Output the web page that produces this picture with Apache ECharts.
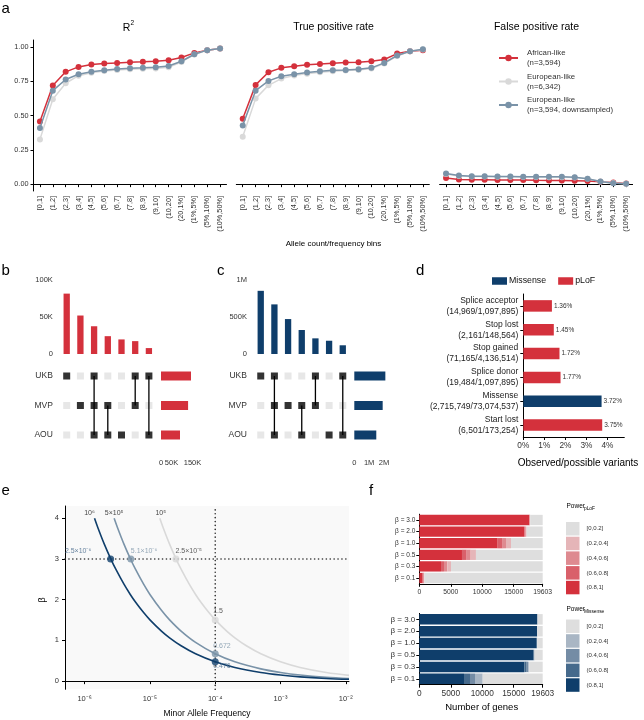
<!DOCTYPE html>
<html><head><meta charset="utf-8">
<script src="https://cdn.jsdelivr.net/npm/echarts@6/dist/echarts.min.js"></script>
<style>html,body{margin:0;padding:0;background:#fff}#c{width:644px;height:720px}</style>
</head><body><div id="c"></div>
<script>
// ---------------- Panel a data ----------------
const binLabels = ['[0,1]','(1,2]','(2,3]','(3,4]','(4,5]','(5,6]','(6,7]','(7,8]','(8,9]','(9,10]','(10,20]','(20,1%]','(1%,5%]','(5%,10%]','(10%,50%]'];
const groupNames = ['African-like','European-like','European-like downsampled'];
const groupLegend = ['African-like\n(n=3,594)','European-like\n(n=6,342)','European-like\n(n=3,594, downsampled)'];
const r2African   = [0.457,0.718,0.818,0.854,0.871,0.878,0.883,0.888,0.891,0.895,0.903,0.922,0.956,0.976,0.988];
const r2European  = [0.326,0.618,0.735,0.790,0.812,0.824,0.832,0.837,0.840,0.843,0.851,0.890,0.944,0.976,0.988];
const r2EuropeanDS= [0.409,0.681,0.762,0.800,0.818,0.830,0.839,0.844,0.847,0.852,0.861,0.895,0.946,0.976,0.988];
const tprAfrican   = [0.477,0.723,0.815,0.847,0.859,0.869,0.876,0.881,0.886,0.888,0.895,0.908,0.951,0.968,0.976];
const tprEuropean  = [0.345,0.623,0.720,0.769,0.791,0.805,0.815,0.822,0.827,0.832,0.842,0.878,0.934,0.968,0.981];
const tprEuropeanDS= [0.428,0.681,0.752,0.786,0.800,0.813,0.822,0.830,0.832,0.837,0.847,0.883,0.937,0.968,0.983];
const fprAfrican   = [0.044,0.034,0.032,0.032,0.031,0.030,0.030,0.028,0.027,0.027,0.025,0.022,0.017,0.012,0.005];
const fprEuropean  = [0.074,0.060,0.056,0.055,0.054,0.053,0.052,0.052,0.051,0.051,0.049,0.040,0.019,0.008,0.003];
const fprEuropeanDS= [0.078,0.063,0.058,0.058,0.056,0.056,0.054,0.054,0.054,0.054,0.051,0.039,0.019,0.007,0.002];
const aTitles = ['R','True positive rate','False positive rate'];
const aTicks = [0, 0.25, 0.5, 0.75, 1];

// ---------------- Panels b, c data ----------------
const setNames = ['UKB','MVP','AOU'];
const pLoFIntersections = [81600, 52000, 37500, 24100, 19700, 17400, 8000];
const pLoFCombos = [['UKB'],['MVP'],['UKB','MVP','AOU'],['MVP','AOU'],['AOU'],['UKB','MVP'],['UKB','AOU']];
const pLoFSetSizes = [143000, 129000, 90500];
const pLoFBarTicks = [0, 50000, 100000];
const pLoFSetTicks = [0, 50000, 150000];
const misIntersections = [848000, 666000, 469000, 322000, 210000, 178000, 117000];
const misCombos = [['UKB'],['UKB','MVP','AOU'],['MVP'],['MVP','AOU'],['UKB','MVP'],['AOU'],['UKB','AOU']];
const misSetSizes = [2090000, 1910000, 1480000];
const misBarTicks = [0, 500000, 1000000];
const misSetTicks = [0, 1000000, 2000000];

// ---------------- Panel d data ----------------
const dCategories = ['Splice acceptor','Stop lost','Stop gained','Splice donor','Missense','Start lost'];
const dCounts = ['(14,969/1,097,895)','(2,161/148,564)','(71,165/4,136,514)','(19,484/1,097,895)','(2,715,749/73,074,537)','(6,501/173,254)'];
const dPercent = [1.36, 1.45, 1.72, 1.77, 3.72, 3.75];
const dType = ['pLoF','pLoF','pLoF','pLoF','Missense','pLoF'];
const dTicks = [0, 1, 2, 3, 4];

// ---------------- Panel e data ----------------
const eSampleLabels = ['10⁶','5×10⁵','10⁵'];
const eCurve1e6 = [[1.416e-6,4.0],[1.6e-6,3.762],[2e-6,3.365],[2.5e-6,3.010],[3e-6,2.748],[4e-6,2.380],[5e-6,2.128],[6e-6,1.943],[8e-6,1.683],[1e-5,1.505],[1.5e-5,1.229],[2e-5,1.064],[3e-5,0.869],[5e-5,0.673],[1e-4,0.476],[2e-4,0.337],[5e-4,0.213],[1e-3,0.150],[2e-3,0.106],[5e-3,0.067],[1.12e-2,0.045]];
const eCurve5e5 = [[2.83e-6,4.0],[3.2e-6,3.762],[4e-6,3.365],[5.1e-6,2.980],[6e-6,2.748],[8e-6,2.380],[1e-5,2.128],[1.5e-5,1.738],[2e-5,1.505],[3e-5,1.229],[5e-5,0.952],[1e-4,0.673],[2e-4,0.476],[5e-4,0.301],[1e-3,0.213],[2e-3,0.150],[5e-3,0.095],[1.12e-2,0.064]];
const eCurve1e5 = [[1.416e-5,4.0],[1.6e-5,3.762],[2e-5,3.365],[2.5e-5,3.010],[3e-5,2.748],[4e-5,2.380],[5e-5,2.128],[6e-5,1.943],[8e-5,1.683],[1e-4,1.505],[1.5e-4,1.229],[2e-4,1.064],[3e-4,0.869],[5e-4,0.673],[1e-3,0.476],[2e-3,0.337],[5e-3,0.213],[1.12e-2,0.142]];
const eKeyPoints = [[2.5e-6,3],[5.1e-6,3],[2.5e-5,3],[1e-4,1.5],[1e-4,0.672],[1e-4,0.476]];
const eKeyLabels = ['2.5×10⁻⁶','5.1×10⁻⁶','2.5×10⁻⁵','1.5','0.672','0.476'];
const eBetaRef = 3;
const eMafRef = 1e-4;
const eXRange = [5e-7, 0.0112];
const eYRange = [-0.2, 4.3];
const eXTicks = [1e-6,1e-5,1e-4,1e-3,1e-2];
const eYTicks = [0,1,2,3,4];

// ---------------- Panel f data ----------------
const powerBins = ['[0,0.2]','(0.2,0.4]','(0.4,0.6]','(0.6,0.8]','(0.8,1]'];
const betaLevels = ['β = 0.1','β = 0.3','β = 0.5','β = 1.0','β = 2.0','β = 3.0'];
const totalGenes = 19603;
const fTicks = [0, 5000, 10000, 15000, 19603];
const pLoFPow81 = [530, 3450, 6780, 12450, 16680, 17470];
const pLoFPow68 = [150, 470, 750, 800, 170, 60];
const pLoFPow46 = [80, 530, 630, 520, 100, 40];
const pLoFPow24 = [60, 590, 840, 800, 110, 40];
const misPow81 = [7100, 16680, 18100, 18650, 18700, 18750];
const misPow68 = [950, 380, 120, 40, 20, 20];
const misPow46 = [800, 250, 60, 20, 10, 10];
const misPow24 = [1220, 160, 40, 20, 10, 10];

// ---------------- styling ----------------
const FONT = '"Liberation Sans", Arial, Helvetica, sans-serif';
const RED = '#d4313c', LIGHT = '#d9d9d9', STEEL = '#7a93a8', NAVY = '#0f3e6b';
const TXT = '#333';
const pLoFColors = {'(0.8,1]':'#d4313c','(0.6,0.8]':'#d9606a','(0.4,0.6]':'#de8a90','(0.2,0.4]':'#e5b5b8','[0,0.2]':'#dedede'};
const misColors = {'(0.8,1]':'#0f3e6b','(0.6,0.8]':'#466a8c','(0.4,0.6]':'#748ca5','(0.2,0.4]':'#a9b6c4','[0,0.2]':'#dedede'};

const option = {animation:false, backgroundColor:'#fff', textStyle:{fontFamily:FONT},
  grid:[], xAxis:[], yAxis:[], series:[], legend:[], graphic:[]};
function addGrid(g){ option.grid.push(Object.assign({containLabel:false, outerBoundsMode:'none'}, g)); return option.grid.length-1; }
function addX(a){ option.xAxis.push(a); return option.xAxis.length-1; }
function addY(a){ option.yAxis.push(a); return option.yAxis.length-1; }
function txt(x,y,text,size,extra){ option.graphic.push(Object.assign({type:'text', x:x, y:y, silent:true,
  style:Object.assign({text:text, fontSize:size, fill:'#000', fontFamily:FONT, align:'center', verticalAlign:'middle'}, (extra&&extra.style)||{})}, extra&&extra.el||{})); }
const blackLine = {show:true, lineStyle:{color:'#000', width:1}};
const kfmt = v => v===0 ? '0' : (v>=1e6 ? (v/1e6)+'M' : (v/1e3)+'K');

// ---------------- Panel a ----------------
const aData = [[r2African,r2European,r2EuropeanDS],[tprAfrican,tprEuropean,tprEuropeanDS],[fprAfrican,fprEuropean,fprEuropeanDS]];
const aColors = [RED, LIGHT, STEEL];
const aLefts = [33.5, 236.3, 439.6];
aLefts.forEach((left, p) => {
  const g = addGrid({left:left, top:40, width:193, height:151});
  const xi = addX({type:'category', gridIndex:g, data:binLabels, boundaryGap:true,
    axisLine:blackLine, axisTick:{show:true, alignWithLabel:true, length:3, lineStyle:{color:'#000'}},
    axisLabel:{rotate:90, interval:0, fontSize:7.3, color:TXT, margin:5, fontFamily:FONT}, splitLine:{show:false}});
  const yi = addY({type:'value', gridIndex:g, min:-0.05, max:1.05,
    axisLine:{show:p===0, lineStyle:{color:'#000'}},
    axisTick:{show:p===0, length:3, customValues:aTicks, lineStyle:{color:'#000'}},
    axisLabel:{show:p===0, customValues:aTicks, formatter:v=>v.toFixed(2), fontSize:7.3, color:TXT, margin:5},
    splitLine:{show:false}});
  aData[p].forEach((vals, s) => {
    option.series.push({type:'line', name:groupNames[s], xAxisIndex:xi, yAxisIndex:yi, data:vals,
      symbol:'circle', symbolSize:6, showSymbol:true, color:aColors[s],
      lineStyle:{width:1.5, color:aColors[s]}, itemStyle:{color:aColors[s]}, z:2+s});
  });
});
txt(126.5, 28.5, aTitles[0], 10.5);
txt(130.5, 23.5, '2', 6.5, {style:{align:'left'}});
txt(333.5, 27, aTitles[1], 10.5);
txt(536.5, 27, aTitles[2], 10.5);
txt(333.5, 243.5, 'Allele count/frequency bins', 8);
option.legend.push({data:groupNames, left:498, top:48, orient:'vertical', itemWidth:19, itemHeight:8, itemGap:3.5, padding:0,
  selectedMode:false, formatter:n=>groupLegend[groupNames.indexOf(n)],
  textStyle:{fontSize:7.8, lineHeight:10, color:TXT, fontFamily:FONT, padding:[0,0,0,4]}});

// ---------------- Panels b, c (UpSet) ----------------
function upset(cfg){
  const cols = cfg.inter.map((_,i)=>String(i));
  const gB = addGrid({left:cfg.left, top:cfg.barTop, width:cfg.width, height:cfg.barHeight});
  const xB = addX({type:'category', gridIndex:gB, data:cols, show:false});
  const yB = addY({type:'value', gridIndex:gB, min:0, max:cfg.barMax, axisLine:{show:false}, axisTick:{show:false},
    splitLine:{show:false}, axisLabel:{customValues:cfg.barTicks, formatter:kfmt, fontSize:7.5, color:TXT, margin:cfg.labMargin}});
  option.series.push({type:'bar', xAxisIndex:xB, yAxisIndex:yB, data:cfg.inter, barWidth:6.3, itemStyle:{color:cfg.color}, silent:true});
  const gM = addGrid({left:cfg.left, top:361.25, width:cfg.width, height:88.5});
  const xM = addX({type:'category', gridIndex:gM, data:cols, show:false});
  const yM = addY({type:'category', gridIndex:gM, data:setNames, inverse:true, axisLine:{show:false}, axisTick:{show:false},
    axisLabel:{fontSize:8.5, color:TXT, margin:cfg.labMargin}});
  const on=[], off=[];
  cfg.combos.forEach((c,i)=>{
    setNames.forEach((s,r)=>{ (c.indexOf(s)>=0 ? on : off).push([i,r]); });
    if (c.length>1){
      const rows = c.map(s=>setNames.indexOf(s));
      option.series.push({type:'line', xAxisIndex:xM, yAxisIndex:yM, data:[[i,Math.min(...rows)],[i,Math.max(...rows)]],
        symbol:'none', lineStyle:{color:'#000', width:1.3}, z:3, silent:true});
    }
  });
  option.series.push({type:'scatter', xAxisIndex:xM, yAxisIndex:yM, data:off, symbol:'rect', symbolSize:7, itemStyle:{color:'#e1e1e1'}, z:2, silent:true});
  option.series.push({type:'scatter', xAxisIndex:xM, yAxisIndex:yM, data:on, symbol:'rect', symbolSize:7, itemStyle:{color:'#000'}, z:4, silent:true});
  const gS = addGrid({left:cfg.setLeft, top:361.25, width:cfg.setWidth, height:88.5});
  const xS = addX({type:'value', gridIndex:gS, min:0, max:cfg.setMax, axisLine:{show:false}, axisTick:{show:false}, splitLine:{show:false},
    axisLabel:{customValues:cfg.setTicks, formatter:kfmt, fontSize:7.5, color:TXT, margin:9}});
  const yS = addY({type:'category', gridIndex:gS, data:setNames, inverse:true, show:false});
  option.series.push({type:'bar', xAxisIndex:xS, yAxisIndex:yS, data:cfg.sets, barWidth:9, itemStyle:{color:cfg.color}, silent:true});
}
upset({inter:pLoFIntersections, combos:pLoFCombos, sets:pLoFSetSizes, color:RED, left:59.85, width:95.9, barTop:280, barHeight:74,
  barMax:100000, barTicks:pLoFBarTicks, labMargin:7, setLeft:161, setWidth:31.5, setMax:150000, setTicks:pLoFSetTicks});
upset({inter:misIntersections, combos:misCombos, sets:misSetSizes, color:NAVY, left:253.9, width:95.7, barTop:279.5, barHeight:74.5,
  barMax:1000000, barTicks:misBarTicks, labMargin:7, setLeft:354.3, setWidth:31.2, setMax:2100000, setTicks:misSetTicks});

// ---------------- Panel d ----------------
{
  const g = addGrid({left:523.3, top:294, width:101, height:143});
  const xi = addX({type:'value', gridIndex:g, min:0, max:4.8, axisLine:blackLine,
    axisTick:{show:true, length:3, customValues:dTicks, lineStyle:{color:'#000'}},
    axisLabel:{customValues:dTicks, formatter:v=>v+'%', fontSize:8.3, color:TXT, margin:5}, splitLine:{show:false}});
  const yi = addY({type:'category', gridIndex:g, data:dCategories.map((c,i)=>c+'\n'+dCounts[i]), inverse:true,
    axisLine:blackLine, axisTick:{show:true, alignWithLabel:true, length:3, lineStyle:{color:'#000'}},
    axisLabel:{fontSize:8.5, lineHeight:11, color:'#222', margin:5, align:'right'}});
  ['Missense','pLoF'].forEach(t=>{
    option.series.push({type:'bar', name:t, stack:'d', xAxisIndex:xi, yAxisIndex:yi, barWidth:11.5,
      data:dPercent.map((v,i)=>dType[i]===t ? v : '-'), itemStyle:{color: t==='pLoF'?RED:NAVY},
      label:{show:true, position:'right', distance:2, fontSize:6.5, color:TXT, formatter:p=>p.value.toFixed(2)+'%'}});
  });
  option.legend.push({data:['Missense','pLoF'], left:492, top:276.5, orient:'horizontal', icon:'rect', itemWidth:15, itemHeight:7.5,
    itemGap:12, padding:0, selectedMode:false, textStyle:{fontSize:8.8, color:'#111', fontFamily:FONT, padding:[0,0,0,-3]}});
  txt(578, 463, 'Observed/possible variants', 10);
}

// ---------------- Panel e ----------------
{
  const sup = n => String(n).split('').map(ch => ({'-':'⁻','0':'⁰','1':'¹','2':'²','3':'³','4':'⁴','5':'⁵','6':'⁶','7':'⁷','8':'⁸','9':'⁹'})[ch]).join('');
  const g = addGrid({left:65, top:506, width:284, height:183.3, show:true, backgroundColor:'#f9f9f9', borderWidth:0});
  const xi = addX({type:'log', logBase:10, gridIndex:g, min:eXRange[0], max:eXRange[1], axisLine:blackLine,
    axisTick:{show:true, length:3, customValues:eXTicks, lineStyle:{color:'#000'}},
    axisLabel:{customValues:eXTicks, formatter:v=>'10'+sup(Math.round(Math.log10(v))), fontSize:7.5, color:TXT, margin:6},
    splitLine:{show:false}, minorTick:{show:false}, minorSplitLine:{show:false}});
  const yi = addY({type:'value', gridIndex:g, min:eYRange[0], max:eYRange[1], axisLine:blackLine,
    axisTick:{show:true, length:3, customValues:eYTicks, lineStyle:{color:'#000'}},
    axisLabel:{customValues:eYTicks, fontSize:7.5, color:TXT, margin:6}, splitLine:{show:false}});
  // dotted reference lines
  const dotted = {color:'#333', width:1.6, type:[0.1,3.8], cap:'round'};
  option.series.push({type:'line', xAxisIndex:xi, yAxisIndex:yi, data:[[eXRange[0],eBetaRef],[eXRange[1],eBetaRef]],
    symbol:'none', lineStyle:dotted, z:1, silent:true});
  option.series.push({type:'line', xAxisIndex:xi, yAxisIndex:yi, data:[[eMafRef,eYRange[0]],[eMafRef,eYRange[1]]],
    symbol:'none', lineStyle:dotted, z:1, silent:true});
  const curves = [eCurve1e5, eCurve5e5, eCurve1e6];
  const cc = ['#d9d9d9', STEEL, NAVY];
  curves.forEach((d,i)=>{
    option.series.push({type:'line', xAxisIndex:xi, yAxisIndex:yi, data:d, smooth:0.35, showSymbol:false, symbol:'none',
      lineStyle:{width:1.6, color:cc[i]}, z:2+i, silent:true});
  });
  // sample size labels at the top of curves
  const topPts = [eCurve1e6[0], eCurve5e5[0], eCurve1e5[0]];
  const topOff = [[-5,-5],[0,-5],[1,-5]];
  topPts.forEach((p,i)=>{
    option.series.push({type:'scatter', xAxisIndex:xi, yAxisIndex:yi, data:[p], symbolSize:0, silent:true, z:6,
      label:{show:true, position:topOff[i], align:'center', verticalAlign:'middle', fontSize:7, color:'#111', formatter:()=>eSampleLabels[i]}});
  });
  const kpColors = [NAVY, STEEL, '#d9d9d9', '#d9d9d9', STEEL, NAVY];
  const kpLabelColors = [ '#44678a', STEEL, '#333', '#333', STEEL, '#44678a'];
  const kpOff = [[-29,-4],[3.5,-4],[3,-4],[1.5,-5],[1.5,-4.5],[1.5,8]];
  const kpAlign = ['center','left','left','left','left','left'];
  eKeyPoints.forEach((p,i)=>{
    option.series.push({type:'scatter', xAxisIndex:xi, yAxisIndex:yi, data:[p], symbol:'circle', symbolSize:7, silent:true, z:7,
      itemStyle:{color:kpColors[i]},
      label:{show:true, position:kpOff[i], align:kpAlign[i], verticalAlign:'middle', fontSize:7, color:kpLabelColors[i], formatter:()=>eKeyLabels[i]}});
  });
  txt(42.5, 600, 'β', 9.5, {el:{rotation:Math.PI/2}});
  txt(207, 714, 'Minor Allele Frequency', 8.5);
}

// ---------------- Panel f ----------------
function powerPanel(top, height, prefix, colors, p81, p68, p46, p24, yFont, xFont, barW, legendTop, titleY, sub){
  const g = addGrid({left:419.3, top:top, width:123.4, height:height});
  const xi = addX({type:'value', gridIndex:g, min:0, max:totalGenes, axisLine:blackLine,
    axisTick:{show:true, length:3, customValues:fTicks, lineStyle:{color:'#000'}},
    axisLabel:{customValues:fTicks, formatter:v=>String(v), fontSize:xFont, color:TXT, margin:5}, splitLine:{show:false}});
  const yi = addY({type:'category', gridIndex:g, data:betaLevels, axisLine:blackLine,
    axisTick:{show:true, alignWithLabel:true, length:3, lineStyle:{color:'#000'}},
    axisLabel:{fontSize:yFont, color:TXT, margin:4}});
  const rest = betaLevels.map((_,i)=> totalGenes - p81[i]-p68[i]-p46[i]-p24[i]);
  const segs = {'(0.8,1]':p81,'(0.6,0.8]':p68,'(0.4,0.6]':p46,'(0.2,0.4]':p24,'[0,0.2]':rest};
  ['(0.8,1]','(0.6,0.8]','(0.4,0.6]','(0.2,0.4]','[0,0.2]'].forEach(b=>{
    option.series.push({type:'bar', name:prefix+b, stack:prefix, xAxisIndex:xi, yAxisIndex:yi, data:segs[b], barWidth:barW,
      itemStyle:{color:colors[b]}, silent:true});
  });
  option.legend.push({data:powerBins.map(b=>prefix+b), left:566, top:legendTop, orient:'vertical', icon:'rect',
    itemWidth:13.5, itemHeight:13.5, itemGap:1.2, padding:0, selectedMode:false, formatter:n=>n.slice(prefix.length),
    textStyle:{fontSize:6, color:TXT, fontFamily:FONT, padding:[0,0,0,2]}});
  txt(566.5, titleY, 'Power', 6.5, {style:{align:'left'}});
  txt(584, titleY+2, sub, 4.8, {style:{align:'left'}});
}
powerPanel(514.2, 69.6, 'pLoF ', pLoFColors, pLoFPow81, pLoFPow68, pLoFPow46, pLoFPow24, 6.5, 6.8, 10.3, 522, 506.5, 'pLoF');
powerPanel(613.4, 71.3, 'Missense ', misColors, misPow81, misPow68, misPow46, misPow24, 8, 8.3, 10.5, 619.5, 609.5, 'Missense');
txt(481.7, 707, 'Number of genes', 9.5);

// panel letters
txt(1.5, 9, 'a', 15, {style:{align:'left'}});
txt(1.5, 271, 'b', 15, {style:{align:'left'}});
txt(217, 271, 'c', 15, {style:{align:'left'}});
txt(416, 271, 'd', 15, {style:{align:'left'}});
txt(1.5, 491, 'e', 15, {style:{align:'left'}});
txt(369, 491, 'f', 15, {style:{align:'left'}});

const chart = echarts.init(document.getElementById('c'), null, {renderer:'canvas'});
chart.setOption(option);
</script></body></html>
